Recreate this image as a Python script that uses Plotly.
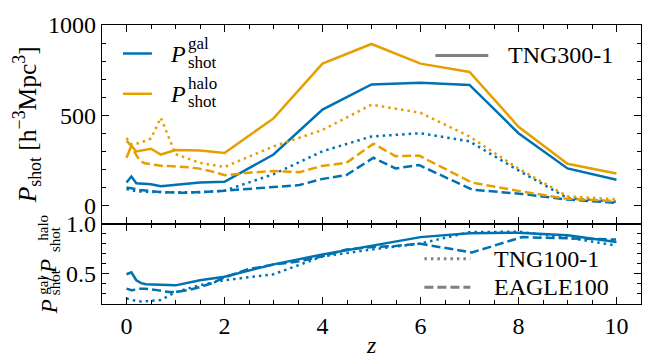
import plotly.graph_objects as go

# Redshift sampling of the simulation snapshots
z_tng = [0, 0.1, 0.2, 0.3, 0.4, 0.5, 0.7, 1.0, 1.5, 2.0, 3.0, 4.0, 5.0, 6.0, 7.0, 8.0, 9.0, 10.0]
z_eagle = [0, 0.1, 0.18, 0.27, 0.37, 0.5, 0.62, 0.74, 0.87, 1.0, 1.26, 1.49, 1.74, 2.01, 2.24,
           2.48, 3.02, 3.53, 3.98, 4.49, 5.04, 5.49, 5.97, 7.05, 8.07, 8.99, 9.99]

# Shot-noise amplitudes [h^-3 Mpc^3]
tng300_gal = [128, 161, 124, 121, 120, 119, 107, 114, 128, 132, 283, 532, 671, 680, 668, 401, 206, 143]
tng300_halo = [265, 332, 300, 305, 310, 315, 283, 308, 305, 292, 483, 786, 895, 786, 740, 437, 232, 178]
tng100_gal = [92, 85, 80, 78, 76, 75, 75, 74, 74, 83, 174, 301, 383, 401, 356, 195, 42, 22]
tng100_halo = [374, 340, 342, 350, 360, 372, 487, 285, 237, 214, 328, 419, 559, 514, 383, 205, 52, 35]
eagle_gal = [100, 97, 92, 87, 83, 80, 77, 75, 73, 72, 72, 74, 78, 83, 88, 92, 101, 114, 147, 170,
             265, 206, 225, 89, 65, 34, 16]
eagle_halo = [360, 330, 290, 250, 235, 228, 222, 219, 219, 218, 212, 205, 190, 168, 175, 182, 192,
              185, 219, 237, 343, 274, 277, 128, 78, 38, 25]

# Ratio galaxy / halo shot noise
ratio_tng300 = [0.49, 0.51, 0.43, 0.40, 0.39, 0.39, 0.385, 0.378, 0.43, 0.465, 0.59, 0.69, 0.775,
                0.865, 0.905, 0.91, 0.885, 0.815]
ratio_tng100 = [0.245, 0.23, 0.22, 0.215, 0.22, 0.22, 0.23, 0.31, 0.38, 0.43, 0.49, 0.67, 0.74,
                0.80, 0.915, 0.92, 0.86, 0.78]
ratio_eagle = [0.345, 0.33, 0.335, 0.345, 0.345, 0.34, 0.33, 0.32, 0.31, 0.31, 0.33, 0.36, 0.40,
               0.46, 0.50, 0.54, 0.59, 0.62, 0.67, 0.74, 0.765, 0.775, 0.80, 0.71, 0.865, 0.85, 0.84]

x_ticks = [0, 2, 4, 6, 8, 10]
top_ticks = [0, 500, 1000]
bot_ticks = [0.5, 1.0]

BLUE = "#0072B2"
ORANGE = "#E69F00"
GREY = "#808080"
FONT = "'Liberation Serif', 'Times New Roman', Times, serif"
LW = 2.5
DASH = "9px,4px"
DOT = "2.5px,4px"

W, H = 654, 359
ML, MR, MT, MB = 102, 12, 20, 55
PW, PH = W - ML - MR, H - MT - MB
SPLIT = 81.7 / PH


def px(x, y):
    """Pixel position -> paper coordinates."""
    return (x - ML) / PW, (H - MB - y) / PH


fig = go.Figure()

series_top = [
    (z_tng, tng300_gal, BLUE, "solid"),
    (z_tng, tng300_halo, ORANGE, "solid"),
    (z_tng, tng100_gal, BLUE, DOT),
    (z_tng, tng100_halo, ORANGE, DOT),
    (z_eagle, eagle_gal, BLUE, DASH),
    (z_eagle, eagle_halo, ORANGE, DASH),
]
for xs, ys, c, d in series_top:
    fig.add_trace(go.Scatter(x=xs, y=ys, mode="lines", xaxis="x", yaxis="y",
                             line=dict(color=c, width=LW, dash=d), showlegend=False))

series_bot = [
    (z_tng, ratio_tng300, "solid"),
    (z_tng, ratio_tng100, DOT),
    (z_eagle, ratio_eagle, DASH),
]
for xs, ys, d in series_bot:
    fig.add_trace(go.Scatter(x=xs, y=ys, mode="lines", xaxis="x2", yaxis="y2",
                             line=dict(color=BLUE, width=LW, dash=d), showlegend=False))

tickfont = dict(family=FONT, size=24, color="black")
common = dict(showline=True, linecolor="black", linewidth=1.2, mirror="allticks",
              ticks="inside", ticklen=7, tickwidth=1.1, tickcolor="black",
              showgrid=False, zeroline=False, tickfont=tickfont)

fig.update_layout(
    width=W, height=H,
    margin=dict(l=ML, r=MR, t=MT, b=MB),
    paper_bgcolor="white", plot_bgcolor="white",
    font=dict(family=FONT, color="black"),
    xaxis=dict(range=[-0.5, 10.5], anchor="y", domain=[0, 1], showticklabels=False,
               tickvals=x_ticks,
               minor=dict(ticks="inside", dtick=0.5, tick0=0, ticklen=4, tickwidth=1, tickcolor="black"),
               **common),
    yaxis=dict(range=[-100, 1000], domain=[SPLIT, 1], anchor="x", tickvals=top_ticks,
               minor=dict(ticks="inside", dtick=100, tick0=0, ticklen=4, tickwidth=1, tickcolor="black"),
               **common),
    xaxis2=dict(range=[-0.5, 10.5], anchor="y2", domain=[0, 1], matches="x",
                tickvals=x_ticks, ticktext=[str(v) for v in x_ticks],
                minor=dict(ticks="inside", dtick=0.5, tick0=0, ticklen=4, tickwidth=1, tickcolor="black"),
                **common),
    yaxis2=dict(range=[0.19, 1.0], domain=[0, SPLIT], anchor="x2", tickvals=bot_ticks,
                ticktext=["0.5", "1.0"],
                minor=dict(ticks="inside", dtick=0.1, tick0=0, ticklen=4, tickwidth=1, tickcolor="black"),
                **common),
)

shapes = []
annots = []


def key_line(x0, x1, y, color, dash):
    a0, b0 = px(x0, y)
    a1, _ = px(x1, y)
    shapes.append(dict(type="line", xref="paper", yref="paper", x0=a0, x1=a1, y0=b0, y1=b0,
                       line=dict(color=color, width=LW if color != GREY else 3, dash=dash)))


def text(x, y, s, size=24, xanchor="left", yanchor="middle", angle=0, italic=False):
    a, b = px(x, y)
    annots.append(dict(xref="paper", yref="paper", x=a, y=b, text=s, showarrow=False,
                       xanchor=xanchor, yanchor=yanchor, textangle=angle,
                       font=dict(family=FONT, size=size, color="black",
                                 style="italic" if italic else "normal")))


# Legend: quantities
key_line(123, 152, 49, BLUE, "solid")
text(168, 50, "P", italic=True)
text(186, 39, "gal", size=17)
text(186, 58, "shot", size=17)
key_line(123, 152, 90, ORANGE, "solid")
text(168, 90, "P", italic=True)
text(186, 80, "halo", size=17)
text(186, 98, "shot", size=17)

# Legend: simulations
key_line(436, 489, 51, GREY, "solid")
text(507, 51, "TNG300-1")
key_line(425, 471, 258, GREY, DOT)
text(493, 258, "TNG100-1")
key_line(425, 471, 287, GREY, DASH)
text(493, 287, "EAGLE100")

# Axis titles
text(27, 122, "<i>P</i><sub>shot</sub> [h<sup>−3</sup>Mpc<sup>3</sup>]", size=25.5,
     xanchor="center", angle=-90)
text(372, 346, "z", size=24, xanchor="center", italic=True)

# Ratio label built from stacked pieces (reads bottom to top)
text(49, 317, "P", size=23, xanchor="center", yanchor="bottom", angle=-90, italic=True)
text(43.5, 297, "gal", size=15, xanchor="center", yanchor="bottom", angle=-90)
text(55, 297, "shot", size=15, xanchor="center", yanchor="bottom", angle=-90)
text(49, 284, "/", size=23, xanchor="center", yanchor="bottom", angle=-90)
text(49, 276, "P", size=23, xanchor="center", yanchor="bottom", angle=-90, italic=True)
text(42.5, 242, "halo", size=15, xanchor="center", yanchor="bottom", angle=-90)
text(55, 253, "shot", size=15, xanchor="center", yanchor="bottom", angle=-90)

fig.update_layout(shapes=shapes, annotations=annots)
fig.write_html("out.html")
